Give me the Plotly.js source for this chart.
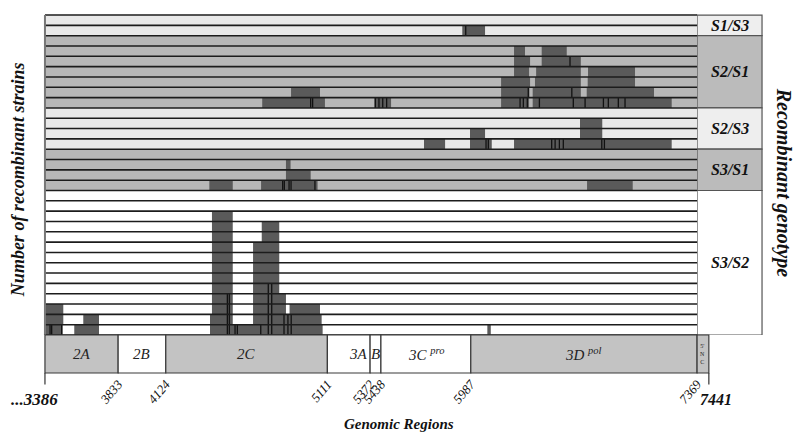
<!DOCTYPE html>
<html>
<head>
<meta charset="utf-8">
<script src="https://cdn.plot.ly/plotly-3.0.1.min.js"></script>
<style>html,body{margin:0;padding:0;background:#fff}#rec{width:800px;height:444px}</style>
</head>
<body>
<div id="rec"></div>
<script>
// recombinant genotype groups (top to bottom) and number of strains in each
var groupNames = ['S1/S3','S2/S1','S2/S3','S3/S1','S3/S2'];
var groupRows = [2,7,4,4,14];

// recombinant fragments: strain row (1 = top), start nt, end nt
var blkRow = [2, 4,4, 5,5, 6,6,6, 7,7,7, 8,8,8,8, 9,9,9,9, 11, 12,12, 13,13,13, 15, 16, 17,17,17,
  20, 21,21, 22,22, 23,23, 24,24, 25,25, 26,26, 27,27, 28,28, 29,29,29,29, 30,30,30,30, 31,31,31,31];
var blkStart = [5935, 6251,6420, 6251,6420, 6251,6386,6703, 6172,6379,6701, 4889,6172,6365,6695,
  4713,5398,6172,6365, 6654, 5982,6654, 5701,5982,6251, 4858, 4858, 4390,4706,6697,
  4406, 4406,4710, 4406,4710, 4406,4657, 4406,4657, 4406,4657, 4406,4657, 4406,4657, 4406,4657,
  3390,4406,4657,4880, 3390,3620,4394,4657, 3390,3565,4394,6088];
var blkEnd = [6074, 6318,6573, 6349,6659, 6343,6659,6990, 6349,6659,6990, 5066,6345,6659,7106,
  5096,5500,6343,7214, 6790, 6074,6790, 5830,6115,7214, 4886, 5009, 4533,5051,6976,
  4533, 4533,4817, 4533,4817, 4533,4817, 4533,4817, 4533,4817, 4533,4817, 4533,4817, 4533,4858,
  3498,4533,4858,5066, 3498,3716,4533,5076, 3494,3716,5082,6109];

// breakpoints marked inside the fragments: strain row, nt
var brkRow = [2, 5, 8,8,
  9,9,9,9,9,9,9,9,9,9,9,9,9,9,9,9,
  13,13,13,13,13,13,13,13,
  17,17,17,17,17,
  27,27, 28,28,28,28, 29,29,29,29, 30,30,30,30,30,30,30,
  31,31,31,31,31,31,31,31,31,31,31,31,31];
var brkPos = [5956, 6593, 6338,6604,
  5009,5021,5404,5426,5449,5473,6288,6308,6332,6406,6613,6685,6797,6827,6888,6929,
  6080,6094,6481,6502,6528,6552,6787,6803,
  4838,4848,4877,4889,5035,
  4750,4771, 4500,4512,4750,4771, 4500,4512,4750,4771, 4500,4512,4750,4771,4846,4870,4890,
  3417,3427,3488,4500,4512,4547,4561,4704,4750,4771,4846,4870,4890];

// genome map
var regionNames = ['2A','2B','2C','3A','B','3C <sup>pro</sup>','3D <sup>pol</sup>',"5'<br>N<br>C"];
var regionStart = [3386,3833,4124,5111,5372,5438,5987,7369];
var regionEnd = [3833,4124,5111,5372,5438,5987,7369,7441];
var regionGray = [true,false,true,false,false,false,true,true];
var boundaryTicks = [3833,4124,5111,5372,5438,5987,7369];

var serif = 'Liberation Serif, Times New Roman, serif';
var xRange = [3374, 7448];
var nRows = 31;
var mapTop = 0.10585;
var colX0 = (7369 - xRange[0]) / (xRange[1] - xRange[0]);
var colX1 = colX0 + 0.0974;
var bandFill = ['#e9e9e9','#b7b7b7','#e9e9e9','#b7b7b7','#ffffff'];
var labFill = ['#eeeeee','#bbbbbb','#eeeeee','#bbbbbb','#ffffff'];

var shapes = [];
var annotations = [];

function note(o) {
  o.showarrow = false;
  o.xanchor = o.xanchor || 'center';
  o.yanchor = o.yanchor || 'middle';
  annotations.push(o);
}

// genotype bands and label column
var r0 = 0;
groupNames.forEach(function(g, i) {
  var r1 = r0 + groupRows[i];
  shapes.push({type:'rect', xref:'x', yref:'y', x0:3386, x1:7369, y0:r0, y1:r1,
    fillcolor:bandFill[i], line:{width:0}, layer:'below'});
  shapes.push({type:'rect', xref:'paper', yref:'y', x0:colX0, x1:colX1, y0:r0, y1:r1,
    fillcolor:labFill[i], line:{color:'#555', width:1.2}, layer:'below'});
  note({xref:'paper', yref:'y', x:(colX0+colX1)/2, y:(r0+r1)/2,
    text:'<b><i>'+g+'</i></b>', font:{family:serif, size:16, color:'#111'}});
  r0 = r1;
});

// strain row lines
for (var k = 0; k <= nRows; k++) {
  shapes.push({type:'line', xref:'x', yref:'y', x0:3386, x1:7369, y0:k, y1:k,
    line:{color:'#1c1c1c', width:1.6}, layer:'above'});
}
shapes.push({type:'line', xref:'x', yref:'y', x0:3386, x1:3386, y0:0, y1:nRows,
  line:{color:'#777', width:2}, layer:'above'});

// genome map boxes
regionNames.forEach(function(n, i) {
  shapes.push({type:'rect', xref:'x', yref:'paper', x0:regionStart[i], x1:regionEnd[i], y0:0, y1:mapTop,
    fillcolor: regionGray[i] ? '#c3c3c3' : '#ffffff', line:{color:'#3a3a3a', width:1.2}, layer:'above'});
  var small = i === 7;
  note({xref:'x', yref:'paper',
    x: i === 3 ? regionEnd[i] : (regionStart[i]+regionEnd[i])/2,
    xanchor: i === 3 ? 'right' : 'center',
    y: mapTop/2, text: small ? n : '<i>'+n+'</i>',
    font:{family:serif, size: small ? 6 : 15, color:'#222'}});
});

// end marks of the region
[3386, 7441].forEach(function(p) {
  shapes.push({type:'line', xref:'x', yref:'paper', x0:p, x1:p, y0:0, y1:-0.032,
    line:{color:'#333', width:1.2}});
});
note({xref:'x', yref:'paper', x:3386, xshift:-10, y:-0.075, text:'<b><i>...3386</i></b>',
  font:{family:serif, size:17, color:'#111'}});
note({xref:'x', yref:'paper', x:7441, xshift:7, y:-0.075, text:'<b><i>7441</i></b>',
  font:{family:serif, size:16, color:'#111'}});

// titles
note({xref:'paper', yref:'paper', x:0.534, y:-0.142, text:'<b><i>Genomic Regions</i></b>',
  font:{family:serif, size:15, color:'#111'}});
note({xref:'paper', yref:'paper', x:-0.0375, y:0.54, textangle:-90,
  text:'<b><i>Number of recombinant strains</i></b>', font:{family:serif, size:18, color:'#111'}});
note({xref:'paper', yref:'paper', x:1.1094, y:0.53, textangle:90,
  text:'<b><i>Recombinant genotype</i></b>', font:{family:serif, size:20, color:'#111'}});

var blocks = {
  type:'bar', orientation:'h',
  y: blkRow.map(function(r){ return r - 0.5; }),
  base: blkStart,
  x: blkEnd.map(function(e, i){ return e - blkStart[i]; }),
  width: 1,
  marker:{color:'#5a5a5a', line:{width:0}},
  hoverinfo:'skip'
};

var bx = [], by = [];
brkPos.forEach(function(p, i) {
  bx.push(p, p, null);
  by.push(brkRow[i] - 1, brkRow[i], null);
});
var breaks = {type:'scatter', mode:'lines', x:bx, y:by, line:{color:'#111', width:1.3}, hoverinfo:'skip'};

var layout = {
  width:800, height:444,
  margin:{l:43, r:90, t:14, b:71},
  paper_bgcolor:'#ffffff', plot_bgcolor:'rgba(0,0,0,0)',
  showlegend:false, barmode:'overlay',
  xaxis:{range:xRange, anchor:'free', position:0, tickvals:boundaryTicks,
    ticktext:boundaryTicks.map(function(t){ return '<i>'+t+'</i>'; }),
    tickangle:-50, ticks:'', showgrid:false, zeroline:false, showline:false, fixedrange:true,
    tickfont:{family:serif, size:13, color:'#111'}},
  yaxis:{range:[nRows, -0.1], domain:[mapTop, 1], visible:false, showgrid:false, zeroline:false, fixedrange:true},
  shapes:shapes,
  annotations:annotations
};

Plotly.newPlot('rec', [blocks, breaks], layout, {displayModeBar:false, staticPlot:true});
</script>
</body>
</html>
